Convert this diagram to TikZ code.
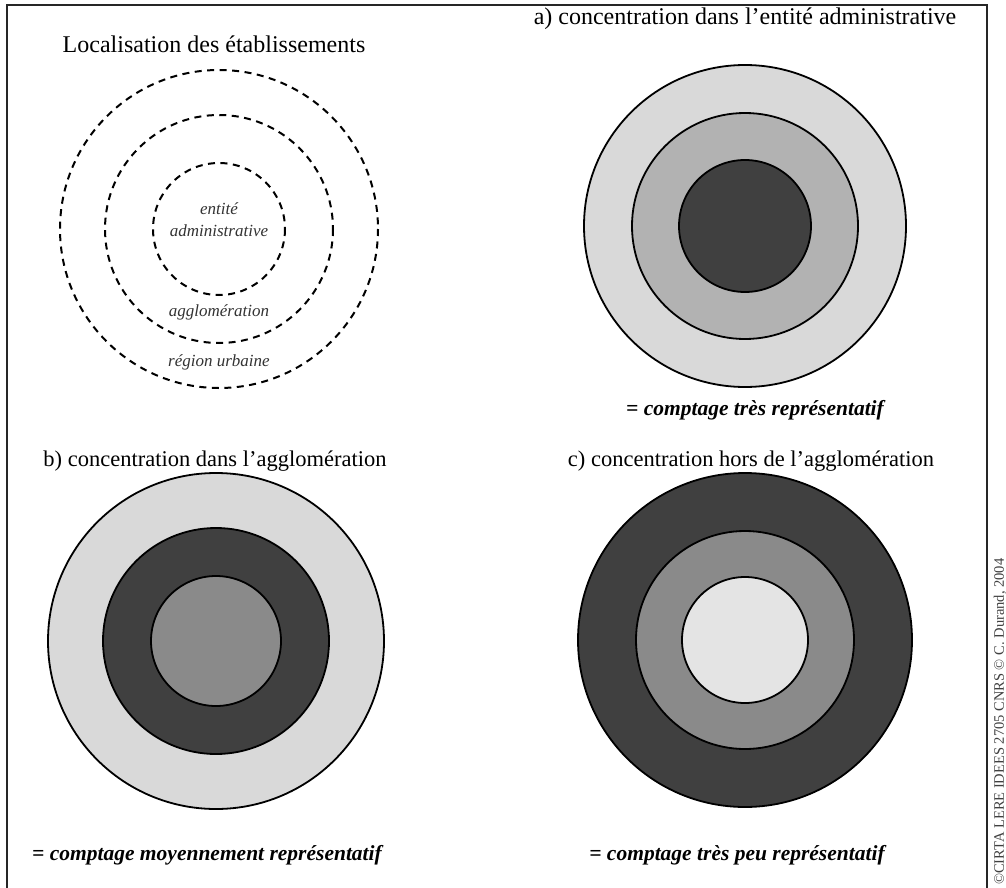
\documentclass[tikz,border=0pt]{standalone}
\usepackage{fontspec}
\setmainfont{Liberation Serif}
\definecolor{lightg}{HTML}{D9D9D9}
\definecolor{paleg}{HTML}{E4E4E4}
\definecolor{midg}{HTML}{B2B2B2}
\definecolor{greyg}{HTML}{8A8A8A}
\definecolor{darkg}{HTML}{404040}
\begin{document}
\begin{tikzpicture}[x=1pt,y=-1pt,
  ring/.style={draw=black,line width=1.8pt},
  dashring/.style={draw=black,line width=2pt,dash pattern=on 7pt off 5.5pt},
  title/.style={font=\fontsize{24}{28}\selectfont,inner sep=0pt},
  subtitle/.style={font=\fontsize{22.5}{26}\selectfont,inner sep=0pt},
  caption/.style={font=\fontsize{21.5}{25}\selectfont\bfseries\itshape,inner sep=0pt},
  lab/.style={font=\fontsize{17}{20}\selectfont\itshape,inner sep=0pt,text=black!80}]
\useasboundingbox (0,0) rectangle (1006,888);
\fill[white] (0,0) rectangle (1006,888);
\draw[line width=2.5pt,black!85] (7,920) -- (7,5) -- (987,5) -- (987,920);
\node[font=\fontsize{14.5}{17}\selectfont,rotate=90,anchor=west,inner sep=0pt,text=black!75] (copy) at (1000,885) {\textcopyright CIRTA LERE IDEES 2705 CNRS \textcopyright\ C. Durand, 2004};
% top-left
\node[title] (t0) at (214,44) {Localisation des établissements};
\draw[dashring] (219,229) circle (159);
\draw[dashring] (219,229) circle (114);
\draw[dashring] (219,229) circle (66);
\node[lab] (l1) at (219,209) {entité};
\node[lab] (l2) at (219,231) {administrative};
\node[lab] (l3) at (219,312) {agglomération};
\node[lab] (l4) at (219,362) {région urbaine};
% a
\node[title] (ta) at (745,19) {a) concentration dans l'entité administrative};
\draw[ring,fill=lightg] (745,226) circle (161);
\draw[ring,fill=midg] (745,226) circle (113);
\draw[ring,fill=darkg] (745,226) circle (66);
\node[caption] (ca) at (755,410) {= comptage très représentatif};
% b
\node[subtitle] (tb) at (215,461) {b) concentration dans l'agglomération};
\draw[ring,fill=lightg] (216,641) circle (168);
\draw[ring,fill=darkg] (216,641) circle (113);
\draw[ring,fill=greyg] (216,641) circle (65);
\node[caption] (cb) at (207,855) {= comptage moyennement représentatif};
% c
\node[subtitle] (tc) at (751,461) {c) concentration hors de l'agglomération};
\draw[ring,fill=darkg] (745,640) circle (167);
\draw[ring,fill=greyg] (745,640) circle (109);
\draw[ring,fill=paleg] (745,640) circle (63);
\node[caption] (cc) at (737,855) {= comptage très peu représentatif};
\end{tikzpicture}
\end{document}
